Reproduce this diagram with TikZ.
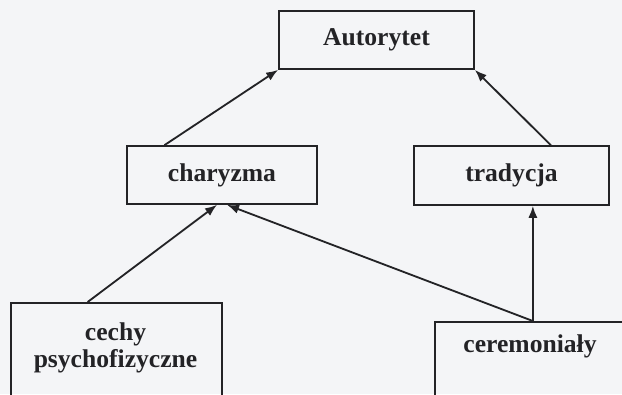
\documentclass[tikz,border=0pt]{standalone}
\usepackage{fontspec}
\setmainfont{Liberation Serif}
\usepackage{tikz}
\usetikzlibrary{positioning,calc,arrows.meta}
\definecolor{paper}{RGB}{244,245,247}
\definecolor{ink}{RGB}{35,35,38}

\begin{document}
\begin{tikzpicture}[x=0.025cm, y=-0.025cm,
    box/.style={draw=ink, line width=1.2pt, rectangle, inner sep=0pt},
    lbl/.style={text=ink, font=\fontsize{18.2}{19.5}\selectfont\bfseries, align=center},
    arr/.style={draw=ink, line width=1.3pt, -{Latex[length=8.5pt,width=6.5pt]}}]
    \useasboundingbox (0,0) rectangle (622,394);
    \fill [paper] (0,0) rectangle (622,394);
    \clip (0,0) rectangle (622,394);

    % Top
    \node [box, lbl, minimum width=4.875cm, minimum height=1.45cm] (autorytet) at (376.5,40) {Autorytet};

    % Middle row
    \node [box, lbl, minimum width=4.75cm, minimum height=1.45cm] (charyzma) at (222,175) {charyzma};
    \node [box, lbl, minimum width=4.875cm, minimum height=1.475cm] (tradycja) at (511.5,175.5) {tradycja};

    % Bottom row (boxes run off the page)
    \node [box, anchor=north west, minimum width=5.275cm, minimum height=3cm] (cechy) at (10,302) {};
    \node [lbl] (cechytxt) at (115.5,348) {cechy\\psychofizyczne};
    \node [box, anchor=north west, minimum width=4.9cm, minimum height=2.5cm] (cerem) at (434,321) {};
    \node [lbl] (ceremtxt) at (530,346) {ceremoniały};

    % Arrows
    \draw [arr] ($(charyzma.north west)!0.2!(charyzma.north east)$) -- (autorytet.south west);
    \draw [arr] ($(tradycja.north west)!0.7!(tradycja.north east)$) -- (autorytet.south east);
    \draw [arr] ($(cechy.north west)!0.365!(cechy.north east)$) -- ([xshift=-0.125cm]charyzma.south);
    \draw [arr] (cerem.north) -- ([xshift=0.125cm]charyzma.south);
    \draw [arr] (cerem.north) -- (cerem.north |- tradycja.south);
\end{tikzpicture}
\end{document}
